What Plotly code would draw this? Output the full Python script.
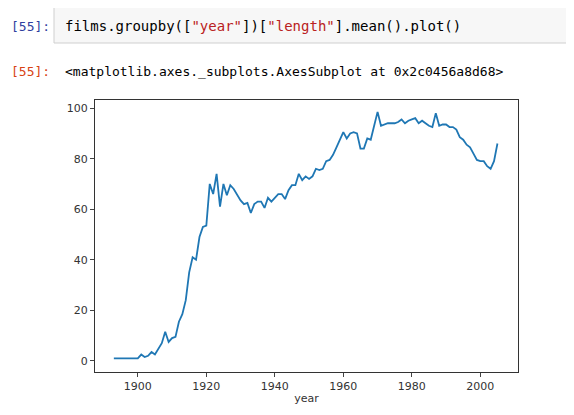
import plotly.graph_objects as go

years = list(range(1893, 2006))
length = [1, 1, 1, 1, 1, 1.2, 1, 1,
          2.5, 1.5, 2, 3.5, 2.5, 4.5, 7, 11.5, 7.5, 9,
          9.5, 15.5, 18.5, 24, 35, 41, 40, 49, 53, 53.5,
          70, 66, 74, 61, 70, 65.5, 69.5, 68, 65.5, 63.5,
          62, 62.5, 58.5, 62, 63, 63, 60.5, 64.5, 63, 64.5,
          66, 66, 64, 67.5, 69.5, 69.5, 74, 71.5, 73, 72,
          73, 76, 75.5, 76, 79, 79.5, 81.5, 84.5, 87.5, 90.5,
          88, 90, 90.5, 90, 84, 84, 88, 87.5, 93, 98.5,
          93, 93.5, 94, 94, 94, 94.5, 95.5, 94, 95, 95.5,
          96, 94, 95, 94, 93, 92.5, 98, 93, 93.5, 93.5,
          92.5, 92.5, 91.5, 88.5, 87.5, 85.5, 84.5, 82, 79.5, 79,
          79, 77, 76, 79, 86]
years = years[-len(length):] if len(length) < len(years) else years

W, H = 574, 415
D = 7  # page offset of the rendered plot
L, R, T, B = 94 - D, 517 - D, 99 - D, 371 - D

def px(x):
    return (x - D - L) / (R - L)

def py(y):
    return (B - (y - D)) / (B - T)

fig = go.Figure(go.Scatter(x=years, y=length, mode="lines",
                           line=dict(color="#1f77b4", width=1.8)))

mono = "DejaVu Sans Mono"
code = ('films.groupby([<span style="color:#BA2121">"year"</span>])'
        '[<span style="color:#BA2121">"length"</span>].mean().plot()')

fig.update_layout(
    width=W, height=H,
    margin=dict(l=L, r=W - R, t=T, b=H - B),
    paper_bgcolor="white", plot_bgcolor="white",
    showlegend=False,
    xaxis=dict(range=[1887.5, 2011], tickvals=[1900, 1920, 1940, 1960, 1980, 2000],
               showgrid=False, zeroline=False, showline=True, mirror=True,
               linecolor="#333", linewidth=1, ticks="outside", ticklen=4,
               tickfont=dict(family="DejaVu Sans", size=11, color="#333"),
               title=dict(text="year", font=dict(family="DejaVu Sans", size=11, color="#333"),
                          standoff=2)),
    yaxis=dict(range=[-4.4, 103.2], tickvals=[0, 20, 40, 60, 80, 100],
               showgrid=False, zeroline=False, showline=True, mirror=True,
               linecolor="#333", linewidth=1, ticks="outside", ticklen=4,
               tickfont=dict(family="DejaVu Sans", size=11, color="#333")),
    shapes=[dict(type="rect", xref="paper", yref="paper",
                 x0=px(53), x1=px(580), y0=py(42), y1=py(6),
                 fillcolor="#f7f7f7", line=dict(color="#cfcfcf", width=1))],
    annotations=[
        dict(xref="paper", yref="paper", x=px(8), y=py(25), xanchor="left", yanchor="middle",
             text="[55]:", showarrow=False, font=dict(family=mono, size=13, color="#303F9F")),
        dict(xref="paper", yref="paper", x=px(62), y=py(25), xanchor="left", yanchor="middle",
             text=code, showarrow=False, font=dict(family=mono, size=14, color="#000")),
        dict(xref="paper", yref="paper", x=px(8), y=py(71), xanchor="left", yanchor="middle",
             text="[55]:", showarrow=False, font=dict(family=mono, size=13, color="#D84315")),
        dict(xref="paper", yref="paper", x=px(62), y=py(71), xanchor="left", yanchor="middle",
             text="&lt;matplotlib.axes._subplots.AxesSubplot at 0x2c0456a8d68&gt;",
             showarrow=False, font=dict(family=mono, size=13, color="#000")),
    ],
)

fig.write_html("out.html")
